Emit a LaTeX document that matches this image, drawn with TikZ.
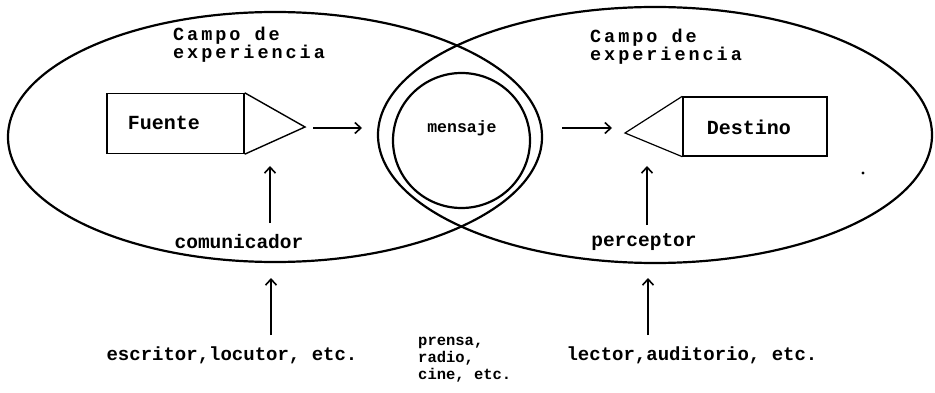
\documentclass[tikz,border=0pt]{standalone}
\usepackage{fontspec}
\usetikzlibrary{arrows.meta}
\newfontfamily\tw{Liberation Mono}
\newfontfamily\twwide[LetterSpace=16]{Liberation Mono}
\begin{document}
\begin{tikzpicture}[x=1pt,y=-1pt,
  field/.style={line width=2.2pt},
  box/.style={draw,line width=1.4pt,minimum width=137pt,minimum height=60pt,inner sep=0pt},
  lbl/.style={font=\tw\bfseries\fontsize{19}{19}\selectfont,inner sep=0pt},
  ttl/.style={font=\twwide\bfseries\fontsize{18.5}{18}\selectfont,inner sep=0pt,align=left},
  small/.style={font=\tw\bfseries\fontsize{15.5}{17}\selectfont,inner sep=0pt,align=left},
  arr/.style={line width=1.6pt,-{Straight Barb[length=6pt,width=11pt,line width=1.6pt]}}]
\useasboundingbox (0,0) rectangle (935,393);
% fields of experience
\draw[field] (275,137) ellipse [x radius=267,y radius=125];
\draw[field] (655,135) ellipse [x radius=277,y radius=128];
% message circle
\draw[field] (461.5,140.5) ellipse [x radius=68.5,y radius=67.5];
\node[small,font=\tw\bfseries\fontsize{16.5}{16}\selectfont] (msg) at (462,128) {mensaje};
% titles
\node[ttl,anchor=north west] (campoL) at (173,27) {Campo de\\experiencia};
\node[ttl,anchor=north west] (campoR) at (590,29) {Campo de\\experiencia};
% source
\node[box] (fuente) at (175.5,123.5) {};
\node[lbl,font=\tw\bfseries\fontsize{20}{20}\selectfont] at (164,123) {Fuente};
\coordinate (ftip) at (305,127);
\draw[line width=1.4pt] (fuente.north east) -- (ftip) -- (fuente.south east);
% destination
\node[box,minimum width=144pt,minimum height=59pt] (destino) at (755,126.5) {};
\node[lbl,font=\tw\bfseries\fontsize{20}{20}\selectfont] at (749,127) {Destino};
\coordinate (dtip) at (625,133);
\draw[line width=1.2pt] (destino.north west) -- (dtip) -- (destino.south west);
% horizontal arrows
\coordinate (a1s) at (313,128); \coordinate (a1e) at (362,128);
\draw[arr] (a1s) -- (a1e);
\coordinate (a2s) at (562,128); \coordinate (a2e) at (612,128);
\draw[arr] (a2s) -- (a2e);
% labels
\node[lbl,font=\tw\bfseries\fontsize{19.5}{19}\selectfont] (com) at (239,242) {comunicador};
\node[lbl,font=\tw\bfseries\fontsize{19.5}{19}\selectfont] (per) at (644,242) {perceptor};
\node[lbl] (esc) at (232,355) {escritor,locutor, etc.};
\node[lbl] (lec) at (692,355) {lector,auditorio, etc.};
\node[small,anchor=north west] (med) at (418,337) {prensa,\\radio,\\cine, etc.};
% vertical arrows
\coordinate (v1a) at (270,223); \coordinate (v1b) at (270,166);
\draw[arr] (v1a) -- (v1b);
\coordinate (v2a) at (271,335); \coordinate (v2b) at (271,278);
\draw[arr] (v2a) -- (v2b);
\coordinate (v3a) at (647,225); \coordinate (v3b) at (647,166);
\draw[arr] (v3a) -- (v3b);
\coordinate (v4a) at (648,335); \coordinate (v4b) at (648,278);
\draw[arr] (v4a) -- (v4b);
% speck
\fill (863,173) circle (1.6);
\end{tikzpicture}
\end{document}
